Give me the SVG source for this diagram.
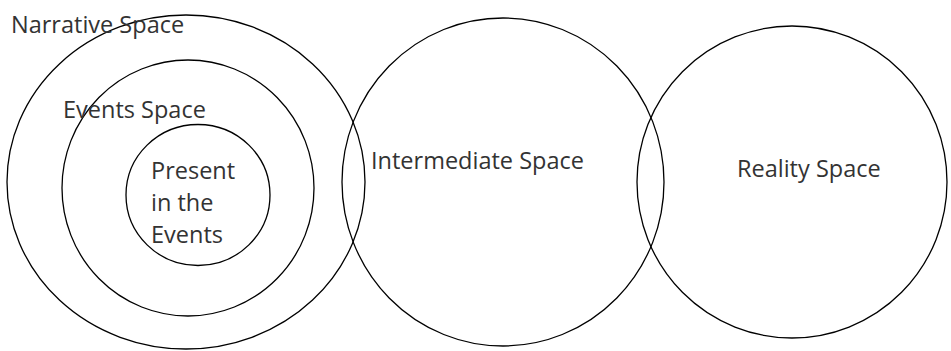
<svg xmlns="http://www.w3.org/2000/svg" width="951" height="351" viewBox="0 0 951 351">
<style>
.c{fill:none;stroke:#000;stroke-width:1.3}
.t{font-family:"Open Sans","Noto Sans","Liberation Sans",sans-serif;font-size:23.5px;fill:#333}
</style>
<rect width="951" height="351" fill="#fff"/>
<g id="narrative"><ellipse class="c" cx="186" cy="182" rx="179" ry="167"/><text class="t" x="11" y="33">Narrative Space</text></g>
<g id="events"><ellipse class="c" cx="188" cy="188" rx="126" ry="128"/><text class="t" x="63" y="118">Events Space</text></g>
<g id="present"><ellipse class="c" cx="198" cy="195" rx="72" ry="70.5"/><text class="t" x="151" y="179">Present</text><text class="t" x="151" y="211">in the</text><text class="t" x="151" y="243">Events</text></g>
<g id="intermediate"><ellipse class="c" cx="503" cy="182" rx="161" ry="164"/><text class="t" x="371" y="169">Intermediate Space</text></g>
<g id="reality"><ellipse class="c" cx="792" cy="182" rx="155" ry="156"/><text class="t" x="737" y="177">Reality Space</text></g>
<g id="connectors"/>
</svg>
